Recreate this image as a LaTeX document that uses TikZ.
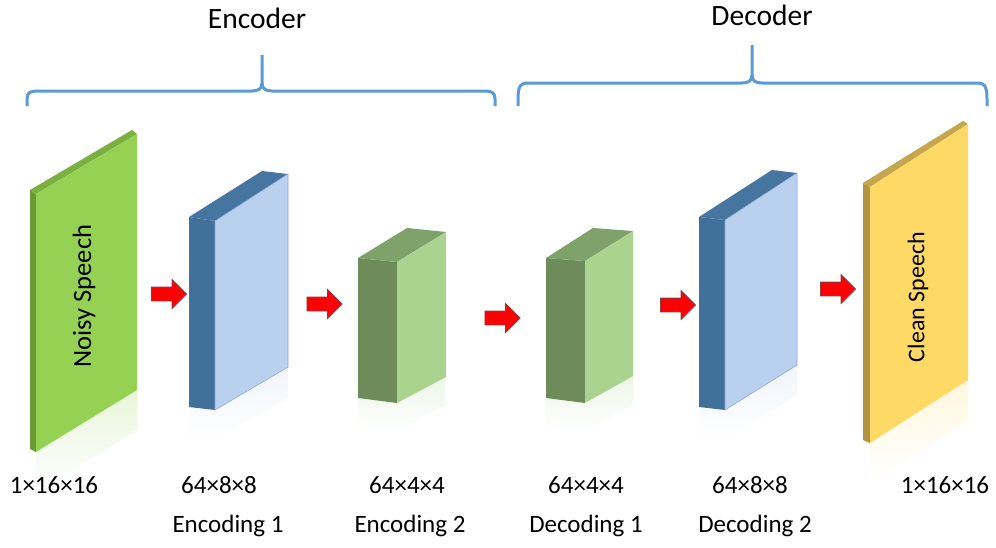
\documentclass[tikz,border=0pt]{standalone}
\usepackage{fontspec}
\setmainfont{Carlito}
\usetikzlibrary{shapes.arrows}
\definecolor{braceblue}{HTML}{5B9BD5}
\definecolor{nsfront}{HTML}{95D253}
\definecolor{nsside}{HTML}{6A9C34}
\definecolor{nstop}{HTML}{7BB040}
\definecolor{bfront}{HTML}{BAD0EF}
\definecolor{bedge}{HTML}{8FAAD4}
\definecolor{bdark}{HTML}{41709A}
\definecolor{btop}{HTML}{46769F}
\definecolor{gdark}{HTML}{6E8B5A}
\definecolor{glight}{HTML}{A9D38F}
\definecolor{gtop}{HTML}{7FA26A}
\definecolor{yfront}{HTML}{FFD966}
\definecolor{yside}{HTML}{B3943F}
\definecolor{ytop}{HTML}{C6A64C}
\definecolor{arrowedge}{HTML}{8A3C48}
\begin{document}
\begin{tikzpicture}[x=1pt,y=-1pt,
  bracepath/.style={draw=braceblue,line width=3pt},
  title/.style={font=\fontsize{29.5}{34}\selectfont,anchor=base,inner sep=0pt},
  lbl/.style={font=\fontsize{25}{30}\selectfont,anchor=base,inner sep=0pt},
  vlbl/.style={font=\fontsize{#1}{30}\selectfont,rotate=90,inner sep=0pt},
  redarrow/.style={single arrow,draw=arrowedge,fill=red,line width=0.8pt,
    minimum height=35pt,single arrow head extend=7.5pt,
    inner sep=0pt,outer sep=0pt,anchor=center},
  reflect/.style={top color=#1!22!white,bottom color=white,draw=none}]
\useasboundingbox (0,0) rectangle (996,547);
\fill[white] (0,0) rectangle (996,547);

% ---------- braces ----------
\node[title] (enc) at (257,28) {Encoder};
\node[title] (dec) at (762,25) {Decoder};
\draw[bracepath] (27,106) -- (27,99) .. controls (27,93) and (30,91) .. (37,91)
  -- (252,91) .. controls (258,91) and (262,89) .. (262,83) -- (262,55);
\draw[bracepath] (262,83) .. controls (262,89) and (266,91) .. (272,91)
  -- (485,91) .. controls (492,91) and (495,93) .. (495,99) -- (495,106);
\draw[bracepath] (518,106) -- (518,99) .. controls (518,85) and (521,83) .. (528,83)
  -- (742,83) .. controls (748,83) and (752,81) .. (752,75) -- (752,45);
\draw[bracepath] (752,75) .. controls (752,81) and (756,83) .. (762,83)
  -- (977,83) .. controls (984,83) and (987,85) .. (987,99) -- (987,106);

% ---------- reflections ----------
\shade[reflect=nsfront] (36,452) -- (137,390) -- (137,430) -- (36,492) -- cycle;
\shade[reflect=bfront] (189,407) -- (215,410) -- (288,367) -- (288,397) -- (215,440) -- (189,437) -- cycle;
\shade[reflect=glight] (358,398) -- (397,403) -- (445,377) -- (445,405) -- (397,431) -- (358,426) -- cycle;
\shade[reflect=glight] (546,398) -- (585,403) -- (633,376) -- (633,404) -- (585,431) -- (546,426) -- cycle;
\shade[reflect=bfront] (699,407) -- (725,410) -- (797,365) -- (797,395) -- (725,440) -- (699,437) -- cycle;
\shade[reflect=yfront] (870,443) -- (968,380) -- (968,420) -- (870,483) -- cycle;

% ---------- Noisy Speech panel ----------
\fill[nsside] (30,190) -- (36,194) -- (36,452) -- (30,449) -- cycle;
\fill[nstop] (30,190) -- (132,130) -- (137,134) -- (36,194) -- cycle;
\fill[nsfront] (36,194) -- (137,134) -- (137,390) -- (36,452) -- cycle;
\node[vlbl=26.5] (noisy) at (84,296) {Noisy Speech};

% ---------- Encoding 1 (blue) ----------
\fill[bdark] (189,217) -- (215,221) -- (215,410) -- (189,407) -- cycle;
\fill[btop] (189,217) -- (262,171) -- (288,174) -- (215,221) -- cycle;
\filldraw[fill=bfront,draw=bedge,line width=0.6pt] (215,221) -- (288,174) -- (288,367) -- (215,410) -- cycle;

% ---------- Encoding 2 (green) ----------
\fill[gdark] (358,258) -- (397,262) -- (397,403) -- (358,398) -- cycle;
\fill[gtop] (358,258) -- (407,228) -- (446,232) -- (397,262) -- cycle;
\fill[glight] (397,262) -- (446,232) -- (446,377) -- (397,403) -- cycle;

% ---------- Decoding 1 (green) ----------
\fill[gdark] (546,258) -- (585,261) -- (585,403) -- (546,398) -- cycle;
\fill[gtop] (546,258) -- (593,228) -- (633,231) -- (585,261) -- cycle;
\fill[glight] (585,261) -- (633,231) -- (633,376) -- (585,403) -- cycle;

% ---------- Decoding 2 (blue) ----------
\fill[bdark] (699,217) -- (725,220) -- (725,410) -- (699,407) -- cycle;
\fill[btop] (699,217) -- (772,170) -- (797,173) -- (725,220) -- cycle;
\filldraw[fill=bfront,draw=bedge,line width=0.6pt] (725,220) -- (797,173) -- (797,365) -- (725,410) -- cycle;

% ---------- Clean Speech panel ----------
\fill[yside] (863,183) -- (870,187) -- (870,443) -- (863,440) -- cycle;
\fill[ytop] (863,183) -- (963,121) -- (968,124) -- (870,187) -- cycle;
\fill[yfront] (870,187) -- (968,124) -- (968,380) -- (870,443) -- cycle;
\node[vlbl=24] (clean) at (918,297) {Clean Speech};

% ---------- red arrows ----------
\node[redarrow] (a1) at (165.5,294) {\rule{0pt}{13pt}};
\node[redarrow] (a2) at (321,304) {\rule{0pt}{13pt}};
\node[redarrow] (a3) at (499,318) {\rule{0pt}{13pt}};
\node[redarrow] (a4) at (674.5,305) {\rule{0pt}{13pt}};
\node[redarrow] (a5) at (834.5,289) {\rule{0pt}{13pt}};

% ---------- labels ----------
\node[lbl] (s0) at (54,493) {1×16×16};
\node[lbl] (s1) at (219,493) {64×8×8};
\node[lbl] (s2) at (407,493) {64×4×4};
\node[lbl] (s3) at (586,493) {64×4×4};
\node[lbl] (s4) at (750,493) {64×8×8};
\node[lbl] (s5) at (945,493) {1×16×16};
\node[lbl] (n1) at (228,532) {Encoding 1};
\node[lbl] (n2) at (410,532) {Encoding 2};
\node[lbl] (n3) at (586,532) {Decoding 1};
\node[lbl] (n4) at (755,532) {Decoding 2};
\end{tikzpicture}
\end{document}
